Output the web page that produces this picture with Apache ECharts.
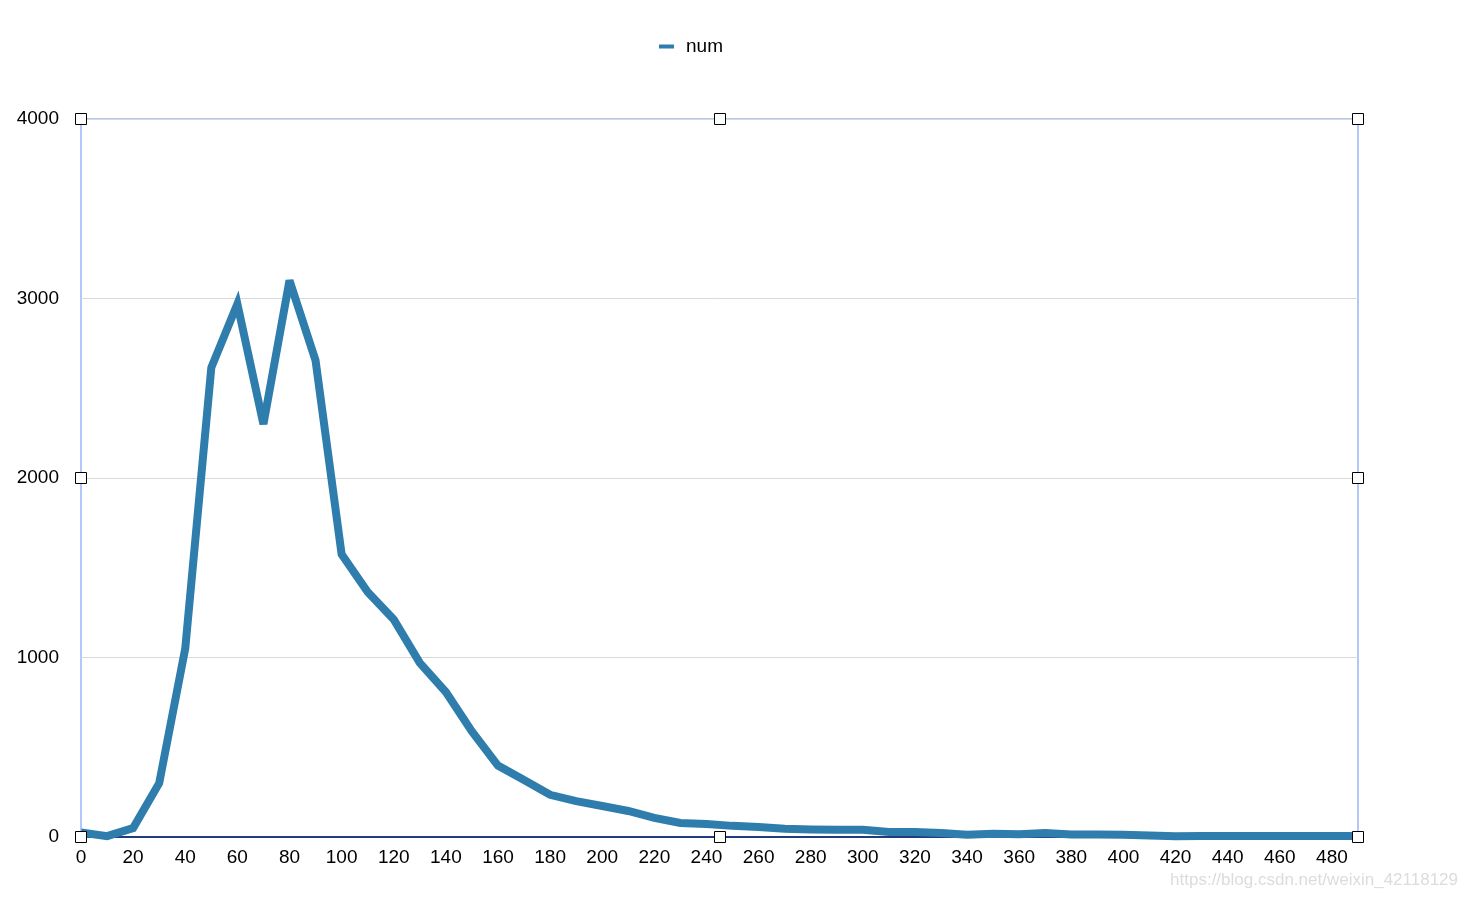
<!DOCTYPE html>
<html>
<head>
<meta charset="utf-8">
<script src="https://cdn.jsdelivr.net/npm/echarts@6/dist/echarts.min.js"></script>
<style>
html,body{margin:0;padding:0;background:#fff;}
#main{width:1466px;height:898px;}
</style>
</head>
<body>
<div id="main"></div>
<script>
var categories = ['0','10','20','30','40','50','60','70','80','90',
  '100','110','120','130','140','150','160','170','180','190',
  '200','210','220','230','240','250','260','270','280','290',
  '300','310','320','330','340','350','360','370','380','390',
  '400','410','420','430','440','450','460','470','480','490'];
var numValues = [25,5,50,300,1050,2615,2970,2300,3100,2655,
  1575,1365,1212,970,808,588,398,318,235,200,
  173,145,106,78,72,62,56,46,42,40,
  40,28,28,22,12,18,15,22,14,14,
  13,9,4,6,6,6,6,5,5,6];
var yTicks = {min:0, max:4000, interval:1000};

var FONT = 'Liberation Sans, Arial, sans-serif';
var G = {left:81, right:108, top:119, bottom:61};
var chart = echarts.init(document.getElementById('main'), null, {renderer:'canvas'});
var W = 1466, H = 898;
var gx0 = G.left, gx1 = W - G.right, gy0 = G.top, gy1 = H - G.bottom;
var gxm = (gx0 + gx1) / 2, gym = (gy0 + gy1) / 2;
function handle(x, y){
  return {type:'rect', shape:{x:Math.round(x)-6+0.5, y:Math.round(y)-6+0.5, width:11, height:11},
    style:{fill:'#fff', stroke:'#000', lineWidth:1}, z:100};
}
var handles = [[gx0,gy0],[gxm,gy0],[gx1,gy0],[gx0,gym],[gx1,gym],[gx0,gy1],[gxm,gy1],[gx1,gy1]].map(function(p){return handle(p[0],p[1]);});

chart.setOption({
  animation:false,
  textStyle:{fontFamily:FONT},
  legend:{
    top:37, left:659, padding:0,
    data:[{name:'num', icon:'rect'}],
    itemWidth:15, itemHeight:4, itemGap:10,
    textStyle:{fontSize:19, color:'#000', fontFamily:FONT, padding:[0,0,0,7]}
  },
  grid:{left:G.left, right:G.right, top:G.top, bottom:G.bottom, show:true, borderColor:'#9ab5f6', borderWidth:1.5, backgroundColor:'transparent'},
  xAxis:{
    type:'category', data:categories, boundaryGap:false,
    axisLine:{show:true, lineStyle:{color:'#1f3c7e', width:2}},
    axisTick:{show:false},
    axisLabel:{interval:1, color:'#000', fontSize:19, margin:11, fontFamily:FONT},
    splitLine:{show:false}
  },
  yAxis:{
    type:'value', min:yTicks.min, max:yTicks.max, interval:yTicks.interval,
    axisLine:{show:false}, axisTick:{show:false},
    axisLabel:{color:'#000', fontSize:19, margin:22, fontFamily:FONT, padding:[4,0,0,0], formatter:function(v){return String(v);}},
    splitLine:{show:true, lineStyle:{color:'#d9d9d9', width:1}}
  },
  series:[{
    name:'num', type:'line', data:numValues, showSymbol:false, symbol:'none',
    lineStyle:{color:'#2f7dac', width:8, join:'miter', miterLimit:4},
    itemStyle:{color:'#2f7dac'},
    z:2
  }],
  graphic:handles.concat([{
    type:'text', right:8, bottom:9,
    style:{text:'https://blog.csdn.net/weixin_42118129', fill:'#dcdcdc', fontSize:17, fontFamily:FONT},
    z:100
  }])
});
</script>
</body>
</html>
